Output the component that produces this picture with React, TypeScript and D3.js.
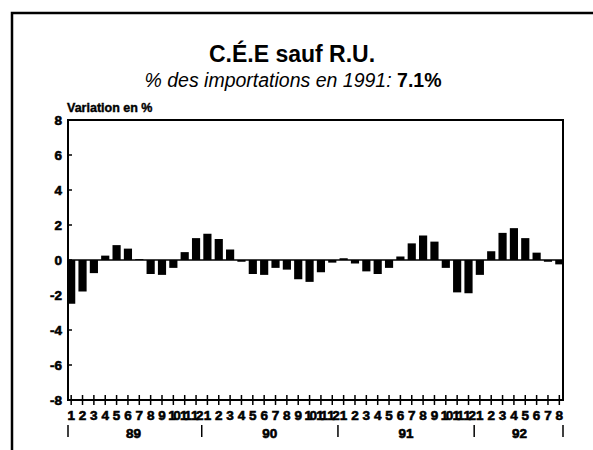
import * as d3 from 'd3'

const years = ['89', '90', '91', '92']
const monthsPerYear = [12, 12, 12, 8]
const values89 = [-2.5, -1.8, -0.75, 0.25, 0.85, 0.65, 0.05, -0.8, -0.85, -0.45, 0.45, 1.25]
const values90 = [1.5, 1.2, 0.6, -0.1, -0.8, -0.85, -0.45, -0.55, -1.1, -1.25, -0.7, -0.15]
const values91 = [0.1, -0.2, -0.65, -0.8, -0.45, 0.2, 0.95, 1.4, 1.05, -0.45, -1.85, -1.9]
const values92 = [-0.85, 0.5, 1.55, 1.82, 1.25, 0.42, -0.1, -0.25]
const yTicks = [8, 6, 4, 2, 0, -2, -4, -6, -8]

const W = 593
const H = 450
const FONT = '"Liberation Sans", Arial, sans-serif'

const series = [values89, values90, values91, values92]
const data = series.flatMap((vals, yi) =>
  vals.map((v, m) => ({ key: `${years[yi]}-${m + 1}`, year: years[yi], month: m + 1, value: v }))
)

// heavy look of the original lettering
const heavy = { stroke: '#000', strokeWidth: 0.6, paintOrder: 'stroke' as const }

export default function App() {
  const plot = { left: 68, right: 563, top: 120, bottom: 400 }

  const x = d3
    .scaleBand<string>()
    .domain(data.map((d) => d.key))
    .range([65.5, 565])
    .paddingInner(0.28)
    .paddingOuter(0.14)

  const y = d3.scaleLinear().domain([-8, 8]).range([plot.bottom, plot.top])
  const center = (k: string) => (x(k) ?? 0) + x.bandwidth() / 2

  // year boundaries and label centers
  let idx = 0
  const yearInfo = years.map((yr, i) => {
    const first = data[idx].key
    const last = data[idx + monthsPerYear[i] - 1].key
    idx += monthsPerYear[i]
    return { yr, first, last }
  })
  const step = x.step()
  const bounds = [plot.left]
  yearInfo.forEach((yi, i) => {
    bounds.push(i === yearInfo.length - 1 ? plot.right : center(yi.last) + step / 2)
  })

  return (
    <div style={{ position: 'absolute', left: 0, top: 0 }}>
      <svg width={W} height={H} style={{ display: 'block', background: '#fff' }}>
        {/* outer frame */}
        <path d={`M12,450 V13 H593`} fill="none" stroke="#000" strokeWidth={2.5} />

        {/* titles */}
        <text x={292} y={62} textAnchor="middle" fontFamily={FONT} fontWeight="bold" fontSize={23}>
          C.É.E sauf R.U.
        </text>
        <text x={293} y={87} textAnchor="middle" fontFamily={FONT} fontSize={19.5}>
          <tspan fontStyle="italic">% des importations en 1991: </tspan>
          <tspan fontWeight="bold">7.1%</tspan>
        </text>
        <text x={67} y={112} fontFamily={FONT} fontWeight="bold" fontSize={12.5} {...heavy} strokeWidth={0.4}>
          Variation en %
        </text>

        {/* plot frame */}
        <rect
          x={plot.left}
          y={plot.top}
          width={plot.right - plot.left}
          height={plot.bottom - plot.top}
          fill="none"
          stroke="#000"
          strokeWidth={2}
        />

        {/* y ticks */}
        {yTicks.map((t) => (
          <g key={t}>
            <line x1={plot.left} x2={plot.left + 4} y1={y(t)} y2={y(t)} stroke="#000" strokeWidth={1.5} />
            <text
              x={62}
              y={y(t) + 5}
              textAnchor="end"
              fontFamily={FONT}
              fontWeight="bold"
              fontSize={13.5}
              {...heavy}
            >
              {t}
            </text>
          </g>
        ))}

        {/* bars */}
        {data.map((d) => (
          <rect
            key={d.key}
            x={x(d.key)}
            width={x.bandwidth()}
            y={y(Math.max(0, d.value))}
            height={Math.abs(y(d.value) - y(0))}
            fill="#000"
          />
        ))}
        <line x1={plot.left} x2={plot.right} y1={y(0)} y2={y(0)} stroke="#000" strokeWidth={1.5} />

        {/* x ticks & month labels */}
        {data.map((d) => (
          <g key={d.key}>
            <line
              x1={center(d.key)}
              x2={center(d.key)}
              y1={plot.bottom - 5}
              y2={plot.bottom + 5}
              stroke="#000"
              strokeWidth={1.5}
            />
            <text
              x={center(d.key)}
              y={420}
              textAnchor="middle"
              fontFamily={FONT}
              fontWeight="bold"
              fontSize={13.5}
              letterSpacing={d.month >= 10 ? -2.5 : 0}
              {...heavy}
            >
              {d.month}
            </text>
          </g>
        ))}

        {/* year separators and labels */}
        {bounds.map((b, i) => (
          <line key={i} x1={b} x2={b} y1={425} y2={437} stroke="#000" strokeWidth={1.5} />
        ))}
        {yearInfo.map((yi) => (
          <text
            key={yi.yr}
            x={(center(yi.first) + center(yi.last)) / 2}
            y={438}
            textAnchor="middle"
            fontFamily={FONT}
            fontWeight="bold"
            fontSize={13.5}
            {...heavy}
          >
            {yi.yr}
          </text>
        ))}
      </svg>
    </div>
  )
}
